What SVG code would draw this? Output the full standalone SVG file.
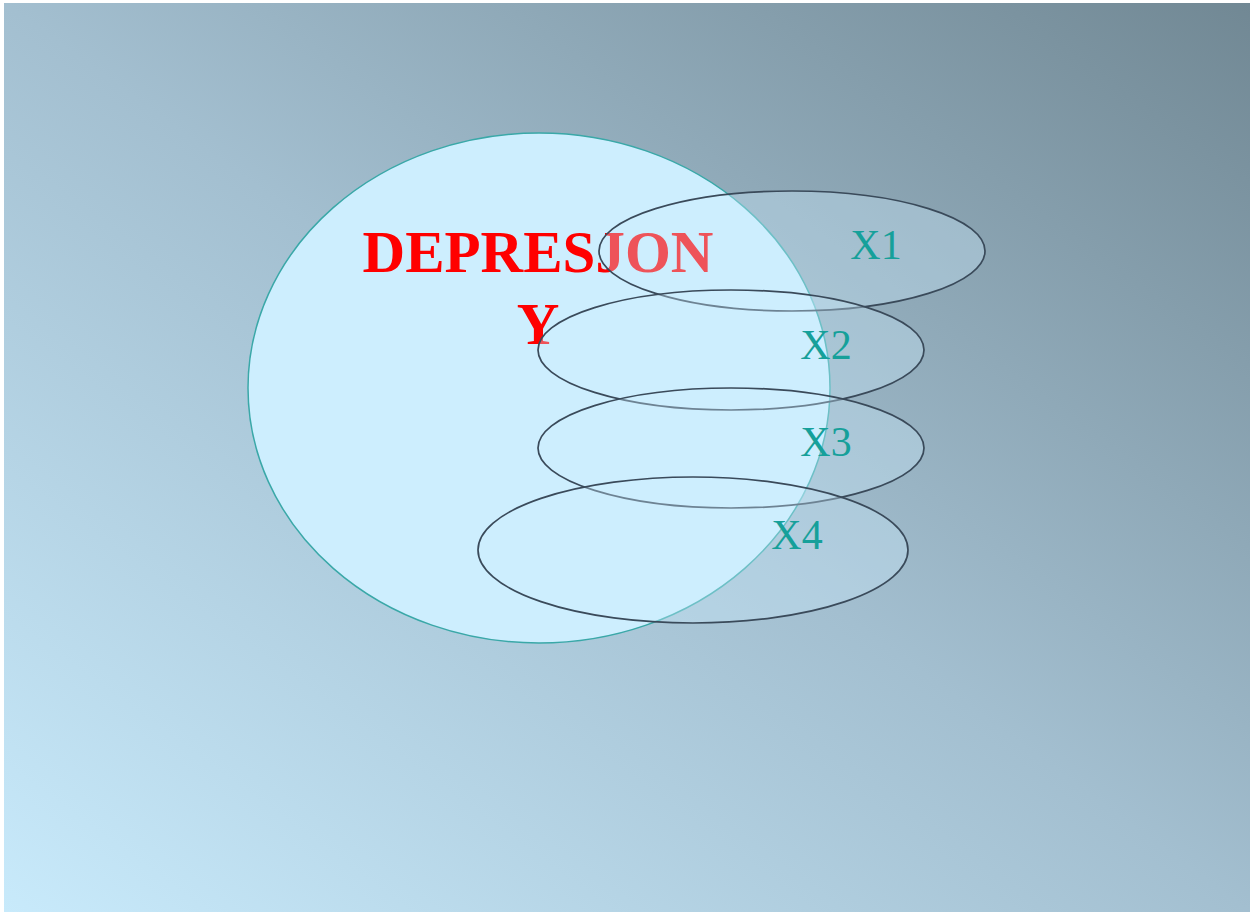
<svg xmlns="http://www.w3.org/2000/svg" width="1256" height="913" viewBox="0 0 1256 913">
<defs>
<linearGradient id="bg" x1="0" y1="1" x2="1" y2="0">
<stop offset="0" stop-color="#c8eafb"/>
<stop offset="0.5" stop-color="#a3bfd0"/>
<stop offset="1" stop-color="#718894"/>
</linearGradient>
<style>
.ell{fill:#cdeefe;fill-opacity:0.35;stroke:#3a4a5a;stroke-width:1.7}
.lbl{font-family:"Liberation Serif","Times New Roman",serif;font-size:42px;fill:#16a09a;text-anchor:middle}
.title{font-family:"Liberation Serif","Times New Roman",serif;font-size:59px;font-weight:bold;fill:#ff0000;text-anchor:middle}
</style>
</defs>
<rect x="0" y="0" width="1256" height="913" fill="#ffffff"/>
<rect x="4" y="3" width="1246" height="909" fill="url(#bg)"/>
<g id="depresjon">
<ellipse cx="539" cy="388" rx="291" ry="255" fill="#cdeefe" stroke="#3aa8a8" stroke-width="1.5"/>
<text class="title" x="538" y="272">DEPRESJON</text>
<text class="title" x="538" y="344">Y</text>
</g>
<g id="x1">
<ellipse class="ell" cx="792" cy="251" rx="193" ry="60"/>
</g>
<g id="x2">
<ellipse class="ell" cx="731" cy="350" rx="193" ry="60"/>
</g>
<g id="x3">
<ellipse class="ell" cx="731" cy="448" rx="193" ry="60"/>
</g>
<g id="x4">
<ellipse class="ell" cx="693" cy="550" rx="215" ry="73"/>
</g>
<g id="labels">
<text class="lbl" x="876" y="259">X1</text>
<text class="lbl" x="826" y="359">X2</text>
<text class="lbl" x="826" y="456">X3</text>
<text class="lbl" x="797" y="549">X4</text>
</g>
<g id="connectors"/>
</svg>
